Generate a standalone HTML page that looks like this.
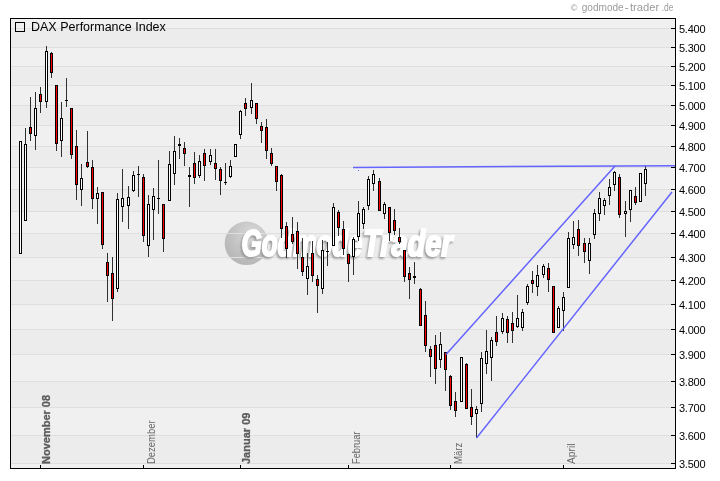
<!DOCTYPE html>
<html lang="de">
<head>
<meta charset="utf-8">
<title>DAX Performance Index</title>
<style>
html,body{margin:0;padding:0;background:#fff;}
body{width:720px;height:481px;overflow:hidden;}
svg{display:block;}
text{font-family:"Liberation Sans",Arial,Helvetica,sans-serif;}
svg{opacity:0.999;}
</style>
</head>
<body>
<svg width="720" height="481" viewBox="0 0 720 481">
<defs>
<radialGradient id="ball" cx="0.62" cy="0.3" r="0.8">
<stop offset="0" stop-color="#d9d9d9"/>
<stop offset="0.45" stop-color="#c7c7c7"/>
<stop offset="1" stop-color="#b2b2b2"/>
</radialGradient>
<filter id="blur" x="-10%" y="-30%" width="120%" height="160%"><feGaussianBlur stdDeviation="0.8"/></filter>
</defs>
<rect x="0" y="0" width="720" height="481" fill="#ffffff"/>
<g shape-rendering="crispEdges">
<rect x="10" y="18" width="666" height="451" fill="#eeeeee"/>
<rect x="11" y="19" width="664" height="9" fill="#f0f0f0"/>
<rect x="11" y="28" width="664" height="19" fill="#ececec"/>
<rect x="11" y="47" width="664" height="19" fill="#f0f0f0"/>
<rect x="11" y="66" width="664" height="19" fill="#ececec"/>
<rect x="11" y="85" width="664" height="20" fill="#f0f0f0"/>
<rect x="11" y="105" width="664" height="20" fill="#ececec"/>
<rect x="11" y="125" width="664" height="21" fill="#f0f0f0"/>
<rect x="11" y="146" width="664" height="21" fill="#ececec"/>
<rect x="11" y="167" width="664" height="22" fill="#f0f0f0"/>
<rect x="11" y="189" width="664" height="22" fill="#ececec"/>
<rect x="11" y="211" width="664" height="22" fill="#f0f0f0"/>
<rect x="11" y="233" width="664" height="24" fill="#ececec"/>
<rect x="11" y="257" width="664" height="23" fill="#f0f0f0"/>
<rect x="11" y="280" width="664" height="24" fill="#ececec"/>
<rect x="11" y="304" width="664" height="25" fill="#f0f0f0"/>
<rect x="11" y="329" width="664" height="25" fill="#ececec"/>
<rect x="11" y="354" width="664" height="27" fill="#f0f0f0"/>
<rect x="11" y="381" width="664" height="26" fill="#ececec"/>
<rect x="11" y="407" width="664" height="28" fill="#f0f0f0"/>
<rect x="11" y="435" width="664" height="28" fill="#ececec"/>
<rect x="11" y="463" width="664" height="5" fill="#f0f0f0"/>
<circle cx="246.5" cy="243.3" r="21.8" fill="url(#ball)" shape-rendering="auto"/>
<rect x="11" y="28" width="664" height="1" fill="#dfdfdf"/>
<rect x="11" y="47" width="664" height="1" fill="#dfdfdf"/>
<rect x="11" y="66" width="664" height="1" fill="#dfdfdf"/>
<rect x="11" y="85" width="664" height="1" fill="#dfdfdf"/>
<rect x="11" y="105" width="664" height="1" fill="#dfdfdf"/>
<rect x="11" y="125" width="664" height="1" fill="#dfdfdf"/>
<rect x="11" y="146" width="664" height="1" fill="#dfdfdf"/>
<rect x="11" y="167" width="664" height="1" fill="#dfdfdf"/>
<rect x="11" y="189" width="664" height="1" fill="#dfdfdf"/>
<rect x="11" y="211" width="664" height="1" fill="#dfdfdf"/>
<rect x="11" y="233" width="664" height="1" fill="#dfdfdf"/>
<rect x="11" y="257" width="664" height="1" fill="#dfdfdf"/>
<rect x="11" y="280" width="664" height="1" fill="#dfdfdf"/>
<rect x="11" y="304" width="664" height="1" fill="#dfdfdf"/>
<rect x="11" y="329" width="664" height="1" fill="#dfdfdf"/>
<rect x="11" y="354" width="664" height="1" fill="#dfdfdf"/>
<rect x="11" y="381" width="664" height="1" fill="#dfdfdf"/>
<rect x="11" y="407" width="664" height="1" fill="#dfdfdf"/>
<rect x="11" y="435" width="664" height="1" fill="#dfdfdf"/>
<rect x="11" y="463" width="664" height="1" fill="#dfdfdf"/>
</g>
<g>
<text y="258.2" font-size="36.8" font-weight="bold" font-style="italic" fill="#969696" stroke="#969696" stroke-width="1.6" filter="url(#blur)"><tspan x="240" textLength="121" lengthAdjust="spacingAndGlyphs">Godmode</tspan><tspan x="361.5" textLength="89.5" lengthAdjust="spacingAndGlyphs">Trader</tspan></text>
<text y="255.6" font-size="36.8" font-weight="bold" font-style="italic" fill="#ffffff" stroke="#ffffff" stroke-width="2.2" stroke-linejoin="miter"><tspan x="241.5" textLength="121" lengthAdjust="spacingAndGlyphs">Godmode</tspan><tspan x="363" textLength="89.5" lengthAdjust="spacingAndGlyphs">Trader</tspan></text>
</g>
<g shape-rendering="crispEdges">
<rect x="20" y="141" width="1" height="112" fill="#303030"/>
<rect x="19" y="141" width="3" height="113" fill="#000"/>
<rect x="20" y="142" width="1" height="111" fill="#ffffff"/>
<rect x="25" y="128" width="1" height="92" fill="#303030"/>
<rect x="24" y="144" width="3" height="77" fill="#000"/>
<rect x="25" y="145" width="1" height="75" fill="#ffffff"/>
<rect x="30" y="97" width="1" height="44" fill="#303030"/>
<rect x="29" y="127" width="3" height="7" fill="#000"/>
<rect x="30" y="128" width="1" height="5" fill="#ff0000"/>
<rect x="35" y="92" width="1" height="58" fill="#303030"/>
<rect x="34" y="108" width="3" height="28" fill="#000"/>
<rect x="35" y="109" width="1" height="26" fill="#ffffff"/>
<rect x="40" y="87" width="1" height="26" fill="#303030"/>
<rect x="39" y="94" width="3" height="8" fill="#000"/>
<rect x="40" y="95" width="1" height="6" fill="#ff0000"/>
<rect x="46" y="46" width="1" height="62" fill="#303030"/>
<rect x="45" y="51" width="3" height="51" fill="#000"/>
<rect x="46" y="52" width="1" height="49" fill="#ffffff"/>
<rect x="51" y="52" width="1" height="26" fill="#303030"/>
<rect x="50" y="53" width="3" height="20" fill="#000"/>
<rect x="51" y="54" width="1" height="18" fill="#ff0000"/>
<rect x="56" y="85" width="1" height="66" fill="#303030"/>
<rect x="55" y="85" width="3" height="59" fill="#000"/>
<rect x="56" y="86" width="1" height="57" fill="#ff0000"/>
<rect x="61" y="102" width="1" height="55" fill="#303030"/>
<rect x="60" y="118" width="3" height="23" fill="#000"/>
<rect x="61" y="119" width="1" height="21" fill="#ffffff"/>
<rect x="66" y="78" width="1" height="29" fill="#303030"/>
<rect x="65" y="100" width="3" height="1" fill="#000"/>
<rect x="71" y="108" width="1" height="51" fill="#303030"/>
<rect x="70" y="108" width="3" height="47" fill="#000"/>
<rect x="71" y="109" width="1" height="45" fill="#ff0000"/>
<rect x="76" y="130" width="1" height="70" fill="#303030"/>
<rect x="75" y="146" width="3" height="39" fill="#000"/>
<rect x="76" y="147" width="1" height="37" fill="#ff0000"/>
<rect x="81" y="164" width="1" height="42" fill="#303030"/>
<rect x="80" y="178" width="3" height="12" fill="#000"/>
<rect x="81" y="179" width="1" height="10" fill="#ffffff"/>
<rect x="87" y="131" width="1" height="37" fill="#303030"/>
<rect x="86" y="162" width="3" height="5" fill="#000"/>
<rect x="87" y="163" width="1" height="3" fill="#ff0000"/>
<rect x="92" y="160" width="1" height="49" fill="#303030"/>
<rect x="91" y="167" width="3" height="32" fill="#000"/>
<rect x="92" y="168" width="1" height="30" fill="#ff0000"/>
<rect x="97" y="187" width="1" height="37" fill="#303030"/>
<rect x="96" y="193" width="3" height="6" fill="#000"/>
<rect x="97" y="194" width="1" height="4" fill="#ffffff"/>
<rect x="102" y="192" width="1" height="57" fill="#303030"/>
<rect x="101" y="192" width="3" height="53" fill="#000"/>
<rect x="102" y="193" width="1" height="51" fill="#ff0000"/>
<rect x="107" y="253" width="1" height="49" fill="#303030"/>
<rect x="106" y="262" width="3" height="14" fill="#000"/>
<rect x="107" y="263" width="1" height="12" fill="#ff0000"/>
<rect x="112" y="257" width="1" height="64" fill="#303030"/>
<rect x="111" y="273" width="3" height="26" fill="#000"/>
<rect x="112" y="274" width="1" height="24" fill="#ff0000"/>
<rect x="117" y="193" width="1" height="99" fill="#303030"/>
<rect x="116" y="199" width="3" height="90" fill="#000"/>
<rect x="117" y="200" width="1" height="88" fill="#ffffff"/>
<rect x="122" y="169" width="1" height="53" fill="#303030"/>
<rect x="121" y="198" width="3" height="9" fill="#000"/>
<rect x="122" y="199" width="1" height="7" fill="#ffffff"/>
<rect x="128" y="186" width="1" height="43" fill="#303030"/>
<rect x="127" y="197" width="3" height="9" fill="#000"/>
<rect x="128" y="198" width="1" height="7" fill="#ffffff"/>
<rect x="133" y="171" width="1" height="21" fill="#303030"/>
<rect x="132" y="175" width="3" height="16" fill="#000"/>
<rect x="133" y="176" width="1" height="14" fill="#ffffff"/>
<rect x="138" y="166" width="1" height="31" fill="#303030"/>
<rect x="137" y="174" width="3" height="1" fill="#000"/>
<rect x="143" y="174" width="1" height="68" fill="#303030"/>
<rect x="142" y="177" width="3" height="59" fill="#000"/>
<rect x="143" y="178" width="1" height="57" fill="#ff0000"/>
<rect x="148" y="195" width="1" height="62" fill="#303030"/>
<rect x="147" y="204" width="3" height="42" fill="#000"/>
<rect x="148" y="205" width="1" height="40" fill="#ffffff"/>
<rect x="153" y="188" width="1" height="52" fill="#303030"/>
<rect x="152" y="196" width="3" height="14" fill="#000"/>
<rect x="153" y="197" width="1" height="12" fill="#ffffff"/>
<rect x="158" y="160" width="1" height="54" fill="#303030"/>
<rect x="157" y="198" width="3" height="1" fill="#000"/>
<rect x="163" y="204" width="1" height="48" fill="#303030"/>
<rect x="162" y="204" width="3" height="35" fill="#000"/>
<rect x="163" y="205" width="1" height="33" fill="#ff0000"/>
<rect x="169" y="151" width="1" height="49" fill="#303030"/>
<rect x="168" y="164" width="3" height="37" fill="#000"/>
<rect x="169" y="165" width="1" height="35" fill="#ffffff"/>
<rect x="174" y="136" width="1" height="49" fill="#303030"/>
<rect x="173" y="151" width="3" height="23" fill="#000"/>
<rect x="174" y="152" width="1" height="21" fill="#ffffff"/>
<rect x="179" y="138" width="1" height="21" fill="#303030"/>
<rect x="178" y="144" width="3" height="2" fill="#000"/>
<rect x="184" y="142" width="1" height="24" fill="#303030"/>
<rect x="183" y="148" width="3" height="6" fill="#000"/>
<rect x="184" y="149" width="1" height="4" fill="#ff0000"/>
<rect x="189" y="167" width="1" height="40" fill="#303030"/>
<rect x="188" y="175" width="3" height="2" fill="#000"/>
<rect x="194" y="152" width="1" height="32" fill="#303030"/>
<rect x="193" y="163" width="3" height="15" fill="#000"/>
<rect x="194" y="164" width="1" height="13" fill="#ff0000"/>
<rect x="199" y="155" width="1" height="23" fill="#303030"/>
<rect x="198" y="161" width="3" height="15" fill="#000"/>
<rect x="199" y="162" width="1" height="13" fill="#ffffff"/>
<rect x="204" y="149" width="1" height="32" fill="#303030"/>
<rect x="203" y="153" width="3" height="13" fill="#000"/>
<rect x="204" y="154" width="1" height="11" fill="#ff0000"/>
<rect x="210" y="149" width="1" height="16" fill="#303030"/>
<rect x="209" y="155" width="3" height="7" fill="#000"/>
<rect x="210" y="156" width="1" height="5" fill="#ffffff"/>
<rect x="215" y="149" width="1" height="31" fill="#303030"/>
<rect x="214" y="163" width="3" height="6" fill="#000"/>
<rect x="215" y="164" width="1" height="4" fill="#ff0000"/>
<rect x="220" y="167" width="1" height="28" fill="#303030"/>
<rect x="219" y="169" width="3" height="12" fill="#000"/>
<rect x="220" y="170" width="1" height="10" fill="#ff0000"/>
<rect x="225" y="163" width="1" height="22" fill="#303030"/>
<rect x="224" y="182" width="3" height="1" fill="#000"/>
<rect x="230" y="160" width="1" height="18" fill="#303030"/>
<rect x="229" y="166" width="3" height="11" fill="#000"/>
<rect x="230" y="167" width="1" height="9" fill="#ffffff"/>
<rect x="235" y="144" width="1" height="12" fill="#303030"/>
<rect x="234" y="144" width="3" height="13" fill="#000"/>
<rect x="235" y="145" width="1" height="11" fill="#ffffff"/>
<rect x="240" y="110" width="1" height="29" fill="#303030"/>
<rect x="239" y="111" width="3" height="24" fill="#000"/>
<rect x="240" y="112" width="1" height="22" fill="#ffffff"/>
<rect x="245" y="98" width="1" height="18" fill="#303030"/>
<rect x="244" y="103" width="3" height="6" fill="#000"/>
<rect x="245" y="104" width="1" height="4" fill="#ff0000"/>
<rect x="251" y="83" width="1" height="31" fill="#303030"/>
<rect x="250" y="100" width="3" height="8" fill="#000"/>
<rect x="251" y="101" width="1" height="6" fill="#ffffff"/>
<rect x="256" y="103" width="1" height="21" fill="#303030"/>
<rect x="255" y="103" width="3" height="16" fill="#000"/>
<rect x="256" y="104" width="1" height="14" fill="#ff0000"/>
<rect x="261" y="122" width="1" height="21" fill="#303030"/>
<rect x="260" y="126" width="3" height="5" fill="#000"/>
<rect x="261" y="127" width="1" height="3" fill="#ff0000"/>
<rect x="266" y="119" width="1" height="40" fill="#303030"/>
<rect x="265" y="127" width="3" height="24" fill="#000"/>
<rect x="266" y="128" width="1" height="22" fill="#ff0000"/>
<rect x="271" y="148" width="1" height="18" fill="#303030"/>
<rect x="270" y="153" width="3" height="11" fill="#000"/>
<rect x="271" y="154" width="1" height="9" fill="#ff0000"/>
<rect x="276" y="166" width="1" height="25" fill="#303030"/>
<rect x="275" y="166" width="3" height="16" fill="#000"/>
<rect x="276" y="167" width="1" height="14" fill="#ff0000"/>
<rect x="281" y="174" width="1" height="64" fill="#303030"/>
<rect x="280" y="175" width="3" height="54" fill="#000"/>
<rect x="281" y="176" width="1" height="52" fill="#ff0000"/>
<rect x="286" y="222" width="1" height="36" fill="#303030"/>
<rect x="285" y="226" width="3" height="23" fill="#000"/>
<rect x="286" y="227" width="1" height="21" fill="#ff0000"/>
<rect x="292" y="217" width="1" height="27" fill="#303030"/>
<rect x="291" y="234" width="3" height="8" fill="#000"/>
<rect x="292" y="235" width="1" height="6" fill="#ff0000"/>
<rect x="297" y="222" width="1" height="47" fill="#303030"/>
<rect x="296" y="231" width="3" height="23" fill="#000"/>
<rect x="297" y="232" width="1" height="21" fill="#ff0000"/>
<rect x="302" y="238" width="1" height="38" fill="#303030"/>
<rect x="301" y="257" width="3" height="15" fill="#000"/>
<rect x="302" y="258" width="1" height="13" fill="#ff0000"/>
<rect x="307" y="253" width="1" height="42" fill="#303030"/>
<rect x="306" y="266" width="3" height="13" fill="#000"/>
<rect x="307" y="267" width="1" height="11" fill="#ffffff"/>
<rect x="312" y="241" width="1" height="41" fill="#303030"/>
<rect x="311" y="253" width="3" height="23" fill="#000"/>
<rect x="312" y="254" width="1" height="21" fill="#ff0000"/>
<rect x="317" y="275" width="1" height="38" fill="#303030"/>
<rect x="316" y="279" width="3" height="7" fill="#000"/>
<rect x="317" y="280" width="1" height="5" fill="#ff0000"/>
<rect x="322" y="240" width="1" height="54" fill="#303030"/>
<rect x="321" y="250" width="3" height="39" fill="#000"/>
<rect x="322" y="251" width="1" height="37" fill="#ffffff"/>
<rect x="327" y="242" width="1" height="24" fill="#303030"/>
<rect x="326" y="251" width="3" height="1" fill="#000"/>
<rect x="333" y="203" width="1" height="42" fill="#303030"/>
<rect x="332" y="207" width="3" height="39" fill="#000"/>
<rect x="333" y="208" width="1" height="37" fill="#ffffff"/>
<rect x="338" y="210" width="1" height="26" fill="#303030"/>
<rect x="337" y="212" width="3" height="16" fill="#000"/>
<rect x="338" y="213" width="1" height="14" fill="#ff0000"/>
<rect x="343" y="221" width="1" height="34" fill="#303030"/>
<rect x="342" y="229" width="3" height="20" fill="#000"/>
<rect x="343" y="230" width="1" height="18" fill="#ff0000"/>
<rect x="348" y="254" width="1" height="28" fill="#303030"/>
<rect x="347" y="254" width="3" height="10" fill="#000"/>
<rect x="348" y="255" width="1" height="8" fill="#ff0000"/>
<rect x="353" y="237" width="1" height="38" fill="#303030"/>
<rect x="352" y="239" width="3" height="18" fill="#000"/>
<rect x="353" y="240" width="1" height="16" fill="#ffffff"/>
<rect x="358" y="201" width="1" height="40" fill="#303030"/>
<rect x="357" y="213" width="3" height="24" fill="#000"/>
<rect x="358" y="214" width="1" height="22" fill="#ffffff"/>
<rect x="363" y="207" width="1" height="22" fill="#303030"/>
<rect x="362" y="209" width="3" height="15" fill="#000"/>
<rect x="363" y="210" width="1" height="13" fill="#ffffff"/>
<rect x="368" y="176" width="1" height="34" fill="#303030"/>
<rect x="367" y="179" width="3" height="27" fill="#000"/>
<rect x="368" y="180" width="1" height="25" fill="#ffffff"/>
<rect x="373" y="170" width="1" height="21" fill="#303030"/>
<rect x="372" y="174" width="3" height="10" fill="#000"/>
<rect x="373" y="175" width="1" height="8" fill="#ffffff"/>
<rect x="379" y="178" width="1" height="32" fill="#303030"/>
<rect x="378" y="181" width="3" height="30" fill="#000"/>
<rect x="379" y="182" width="1" height="28" fill="#ff0000"/>
<rect x="384" y="202" width="1" height="17" fill="#303030"/>
<rect x="383" y="204" width="3" height="10" fill="#000"/>
<rect x="384" y="205" width="1" height="8" fill="#ffffff"/>
<rect x="389" y="207" width="1" height="34" fill="#303030"/>
<rect x="388" y="207" width="3" height="26" fill="#000"/>
<rect x="389" y="208" width="1" height="24" fill="#ff0000"/>
<rect x="394" y="209" width="1" height="26" fill="#303030"/>
<rect x="393" y="220" width="3" height="11" fill="#000"/>
<rect x="394" y="221" width="1" height="9" fill="#ff0000"/>
<rect x="399" y="228" width="1" height="16" fill="#303030"/>
<rect x="398" y="237" width="3" height="5" fill="#000"/>
<rect x="399" y="238" width="1" height="3" fill="#ff0000"/>
<rect x="404" y="250" width="1" height="32" fill="#303030"/>
<rect x="403" y="250" width="3" height="27" fill="#000"/>
<rect x="404" y="251" width="1" height="25" fill="#ff0000"/>
<rect x="409" y="267" width="1" height="32" fill="#303030"/>
<rect x="408" y="273" width="3" height="7" fill="#000"/>
<rect x="409" y="274" width="1" height="5" fill="#ff0000"/>
<rect x="414" y="262" width="1" height="22" fill="#303030"/>
<rect x="413" y="276" width="3" height="2" fill="#000"/>
<rect x="420" y="288" width="1" height="37" fill="#303030"/>
<rect x="419" y="289" width="3" height="37" fill="#000"/>
<rect x="420" y="290" width="1" height="35" fill="#ff0000"/>
<rect x="425" y="301" width="1" height="51" fill="#303030"/>
<rect x="424" y="315" width="3" height="31" fill="#000"/>
<rect x="425" y="316" width="1" height="29" fill="#ff0000"/>
<rect x="430" y="346" width="1" height="31" fill="#303030"/>
<rect x="429" y="349" width="3" height="8" fill="#000"/>
<rect x="430" y="350" width="1" height="6" fill="#ff0000"/>
<rect x="435" y="335" width="1" height="49" fill="#303030"/>
<rect x="434" y="345" width="3" height="24" fill="#000"/>
<rect x="435" y="346" width="1" height="22" fill="#ff0000"/>
<rect x="440" y="332" width="1" height="36" fill="#303030"/>
<rect x="439" y="344" width="3" height="16" fill="#000"/>
<rect x="440" y="345" width="1" height="14" fill="#ffffff"/>
<rect x="445" y="352" width="1" height="39" fill="#303030"/>
<rect x="444" y="352" width="3" height="18" fill="#000"/>
<rect x="445" y="353" width="1" height="16" fill="#ff0000"/>
<rect x="450" y="375" width="1" height="35" fill="#303030"/>
<rect x="449" y="376" width="3" height="30" fill="#000"/>
<rect x="450" y="377" width="1" height="28" fill="#ff0000"/>
<rect x="455" y="392" width="1" height="25" fill="#303030"/>
<rect x="454" y="401" width="3" height="10" fill="#000"/>
<rect x="455" y="402" width="1" height="8" fill="#ff0000"/>
<rect x="461" y="357" width="1" height="44" fill="#303030"/>
<rect x="460" y="357" width="3" height="45" fill="#000"/>
<rect x="461" y="358" width="1" height="43" fill="#ffffff"/>
<rect x="466" y="363" width="1" height="45" fill="#303030"/>
<rect x="465" y="364" width="3" height="45" fill="#000"/>
<rect x="466" y="365" width="1" height="43" fill="#ff0000"/>
<rect x="471" y="389" width="1" height="36" fill="#303030"/>
<rect x="470" y="407" width="3" height="10" fill="#000"/>
<rect x="471" y="408" width="1" height="8" fill="#ff0000"/>
<rect x="476" y="406" width="1" height="32" fill="#303030"/>
<rect x="475" y="409" width="3" height="5" fill="#000"/>
<rect x="476" y="410" width="1" height="3" fill="#ffffff"/>
<rect x="481" y="352" width="1" height="60" fill="#303030"/>
<rect x="480" y="358" width="3" height="46" fill="#000"/>
<rect x="481" y="359" width="1" height="44" fill="#ffffff"/>
<rect x="486" y="330" width="1" height="44" fill="#303030"/>
<rect x="485" y="351" width="3" height="13" fill="#000"/>
<rect x="486" y="352" width="1" height="11" fill="#ffffff"/>
<rect x="491" y="337" width="1" height="44" fill="#303030"/>
<rect x="490" y="340" width="3" height="18" fill="#000"/>
<rect x="491" y="341" width="1" height="16" fill="#ffffff"/>
<rect x="496" y="316" width="1" height="30" fill="#303030"/>
<rect x="495" y="332" width="3" height="10" fill="#000"/>
<rect x="496" y="333" width="1" height="8" fill="#ff0000"/>
<rect x="502" y="313" width="1" height="21" fill="#303030"/>
<rect x="501" y="318" width="3" height="14" fill="#000"/>
<rect x="502" y="319" width="1" height="12" fill="#ffffff"/>
<rect x="507" y="316" width="1" height="27" fill="#303030"/>
<rect x="506" y="319" width="3" height="14" fill="#000"/>
<rect x="507" y="320" width="1" height="12" fill="#ff0000"/>
<rect x="512" y="312" width="1" height="31" fill="#303030"/>
<rect x="511" y="323" width="3" height="8" fill="#000"/>
<rect x="512" y="324" width="1" height="6" fill="#ff0000"/>
<rect x="517" y="295" width="1" height="33" fill="#303030"/>
<rect x="516" y="318" width="3" height="9" fill="#000"/>
<rect x="517" y="319" width="1" height="7" fill="#ffffff"/>
<rect x="522" y="309" width="1" height="22" fill="#303030"/>
<rect x="521" y="312" width="3" height="16" fill="#000"/>
<rect x="522" y="313" width="1" height="14" fill="#ffffff"/>
<rect x="527" y="284" width="1" height="21" fill="#303030"/>
<rect x="526" y="286" width="3" height="17" fill="#000"/>
<rect x="527" y="287" width="1" height="15" fill="#ffffff"/>
<rect x="532" y="271" width="1" height="22" fill="#303030"/>
<rect x="531" y="280" width="3" height="4" fill="#000"/>
<rect x="532" y="281" width="1" height="2" fill="#ff0000"/>
<rect x="537" y="265" width="1" height="31" fill="#303030"/>
<rect x="536" y="275" width="3" height="12" fill="#000"/>
<rect x="537" y="276" width="1" height="10" fill="#ffffff"/>
<rect x="543" y="264" width="1" height="14" fill="#303030"/>
<rect x="542" y="266" width="3" height="9" fill="#000"/>
<rect x="543" y="267" width="1" height="7" fill="#ffffff"/>
<rect x="548" y="263" width="1" height="29" fill="#303030"/>
<rect x="547" y="268" width="3" height="12" fill="#000"/>
<rect x="548" y="269" width="1" height="10" fill="#ff0000"/>
<rect x="553" y="286" width="1" height="46" fill="#303030"/>
<rect x="552" y="286" width="3" height="47" fill="#000"/>
<rect x="553" y="287" width="1" height="45" fill="#ff0000"/>
<rect x="558" y="306" width="1" height="21" fill="#303030"/>
<rect x="557" y="308" width="3" height="20" fill="#000"/>
<rect x="558" y="309" width="1" height="18" fill="#ffffff"/>
<rect x="563" y="292" width="1" height="39" fill="#303030"/>
<rect x="562" y="297" width="3" height="14" fill="#000"/>
<rect x="563" y="298" width="1" height="12" fill="#ffffff"/>
<rect x="568" y="232" width="1" height="55" fill="#303030"/>
<rect x="567" y="238" width="3" height="50" fill="#000"/>
<rect x="568" y="239" width="1" height="48" fill="#ffffff"/>
<rect x="573" y="221" width="1" height="28" fill="#303030"/>
<rect x="572" y="237" width="3" height="8" fill="#000"/>
<rect x="573" y="238" width="1" height="6" fill="#ffffff"/>
<rect x="578" y="220" width="1" height="36" fill="#303030"/>
<rect x="577" y="229" width="3" height="17" fill="#000"/>
<rect x="578" y="230" width="1" height="15" fill="#ff0000"/>
<rect x="584" y="238" width="1" height="25" fill="#303030"/>
<rect x="583" y="243" width="3" height="9" fill="#000"/>
<rect x="584" y="244" width="1" height="7" fill="#ff0000"/>
<rect x="589" y="238" width="1" height="36" fill="#303030"/>
<rect x="588" y="243" width="3" height="18" fill="#000"/>
<rect x="589" y="244" width="1" height="16" fill="#ffffff"/>
<rect x="594" y="209" width="1" height="30" fill="#303030"/>
<rect x="593" y="213" width="3" height="22" fill="#000"/>
<rect x="594" y="214" width="1" height="20" fill="#ffffff"/>
<rect x="599" y="192" width="1" height="29" fill="#303030"/>
<rect x="598" y="198" width="3" height="16" fill="#000"/>
<rect x="599" y="199" width="1" height="14" fill="#ffffff"/>
<rect x="604" y="198" width="1" height="17" fill="#303030"/>
<rect x="603" y="200" width="3" height="6" fill="#000"/>
<rect x="604" y="201" width="1" height="4" fill="#ffffff"/>
<rect x="609" y="179" width="1" height="26" fill="#303030"/>
<rect x="608" y="187" width="3" height="9" fill="#000"/>
<rect x="609" y="188" width="1" height="7" fill="#ffffff"/>
<rect x="614" y="171" width="1" height="20" fill="#303030"/>
<rect x="613" y="172" width="3" height="13" fill="#000"/>
<rect x="614" y="173" width="1" height="11" fill="#ffffff"/>
<rect x="619" y="174" width="1" height="44" fill="#303030"/>
<rect x="618" y="177" width="3" height="38" fill="#000"/>
<rect x="619" y="178" width="1" height="36" fill="#ff0000"/>
<rect x="625" y="201" width="1" height="36" fill="#303030"/>
<rect x="624" y="211" width="3" height="3" fill="#000"/>
<rect x="625" y="212" width="1" height="1" fill="#ffffff"/>
<rect x="630" y="190" width="1" height="32" fill="#303030"/>
<rect x="629" y="190" width="3" height="20" fill="#000"/>
<rect x="630" y="191" width="1" height="18" fill="#ffffff"/>
<rect x="635" y="187" width="1" height="18" fill="#303030"/>
<rect x="634" y="196" width="3" height="7" fill="#000"/>
<rect x="635" y="197" width="1" height="5" fill="#ff0000"/>
<rect x="640" y="173" width="1" height="28" fill="#303030"/>
<rect x="639" y="173" width="3" height="29" fill="#000"/>
<rect x="640" y="174" width="1" height="27" fill="#ffffff"/>
<rect x="645" y="165" width="1" height="31" fill="#303030"/>
<rect x="644" y="169" width="3" height="15" fill="#000"/>
<rect x="645" y="170" width="1" height="13" fill="#ffffff"/>
</g>
<g stroke="#6464ff" stroke-width="1.5" stroke-linecap="butt" fill="none">
<line x1="353" y1="167.4" x2="675" y2="165.7"/>
<line x1="446" y1="354.5" x2="615" y2="166"/>
<line x1="476.5" y1="438" x2="672" y2="192"/>
</g>
<rect x="358" y="170" width="1" height="1" fill="#6464ff"/>
<g shape-rendering="crispEdges" fill="#000">
<rect x="10" y="18" width="666" height="1"/>
<rect x="10" y="468" width="666" height="1"/>
<rect x="10" y="18" width="1" height="451"/>
<rect x="675" y="18" width="1" height="451"/>
<rect x="671" y="28" width="4" height="1"/>
<rect x="671" y="47" width="4" height="1"/>
<rect x="671" y="66" width="4" height="1"/>
<rect x="671" y="85" width="4" height="1"/>
<rect x="671" y="105" width="4" height="1"/>
<rect x="671" y="125" width="4" height="1"/>
<rect x="671" y="146" width="4" height="1"/>
<rect x="671" y="167" width="4" height="1"/>
<rect x="671" y="189" width="4" height="1"/>
<rect x="671" y="211" width="4" height="1"/>
<rect x="671" y="233" width="4" height="1"/>
<rect x="671" y="257" width="4" height="1"/>
<rect x="671" y="280" width="4" height="1"/>
<rect x="671" y="304" width="4" height="1"/>
<rect x="671" y="329" width="4" height="1"/>
<rect x="671" y="354" width="4" height="1"/>
<rect x="671" y="381" width="4" height="1"/>
<rect x="671" y="407" width="4" height="1"/>
<rect x="671" y="435" width="4" height="1"/>
<rect x="671" y="463" width="4" height="1"/>
<rect x="40" y="465" width="1" height="3"/>
<rect x="143" y="465" width="1" height="3"/>
<rect x="240" y="465" width="1" height="3"/>
<rect x="348" y="465" width="1" height="3"/>
<rect x="450" y="465" width="1" height="3"/>
<rect x="563" y="465" width="1" height="3"/>
<rect x="15" y="22" width="10" height="1"/><rect x="15" y="31" width="10" height="1"/><rect x="15" y="22" width="1" height="10"/><rect x="24" y="22" width="1" height="10"/>
</g>
<text x="31" y="31" font-size="12.5" fill="#000">DAX Performance Index</text>
<text y="10.8" font-size="10" fill="#9c9c9c"><tspan x="570.8" font-size="9">©</tspan> <tspan x="581.7" textLength="42" lengthAdjust="spacingAndGlyphs">godmode</tspan><tspan x="624.7" textLength="4" lengthAdjust="spacingAndGlyphs">-</tspan><tspan x="630" textLength="29.3" lengthAdjust="spacingAndGlyphs">trader</tspan><tspan x="661.7" textLength="11.7" lengthAdjust="spacingAndGlyphs">.de</tspan></text>
<text x="679" y="33" font-size="11" fill="#000" textLength="26.5" lengthAdjust="spacing">5.400</text>
<text x="679" y="52" font-size="11" fill="#000" textLength="26.5" lengthAdjust="spacing">5.300</text>
<text x="679" y="71" font-size="11" fill="#000" textLength="26.5" lengthAdjust="spacing">5.200</text>
<text x="679" y="90" font-size="11" fill="#000" textLength="26.5" lengthAdjust="spacing">5.100</text>
<text x="679" y="110" font-size="11" fill="#000" textLength="26.5" lengthAdjust="spacing">5.000</text>
<text x="679" y="130" font-size="11" fill="#000" textLength="26.5" lengthAdjust="spacing">4.900</text>
<text x="679" y="151" font-size="11" fill="#000" textLength="26.5" lengthAdjust="spacing">4.800</text>
<text x="679" y="172" font-size="11" fill="#000" textLength="26.5" lengthAdjust="spacing">4.700</text>
<text x="679" y="194" font-size="11" fill="#000" textLength="26.5" lengthAdjust="spacing">4.600</text>
<text x="679" y="216" font-size="11" fill="#000" textLength="26.5" lengthAdjust="spacing">4.500</text>
<text x="679" y="238" font-size="11" fill="#000" textLength="26.5" lengthAdjust="spacing">4.400</text>
<text x="679" y="262" font-size="11" fill="#000" textLength="26.5" lengthAdjust="spacing">4.300</text>
<text x="679" y="285" font-size="11" fill="#000" textLength="26.5" lengthAdjust="spacing">4.200</text>
<text x="679" y="309" font-size="11" fill="#000" textLength="26.5" lengthAdjust="spacing">4.100</text>
<text x="679" y="334" font-size="11" fill="#000" textLength="26.5" lengthAdjust="spacing">4.000</text>
<text x="679" y="359" font-size="11" fill="#000" textLength="26.5" lengthAdjust="spacing">3.900</text>
<text x="679" y="386" font-size="11" fill="#000" textLength="26.5" lengthAdjust="spacing">3.800</text>
<text x="679" y="412" font-size="11" fill="#000" textLength="26.5" lengthAdjust="spacing">3.700</text>
<text x="679" y="440" font-size="11" fill="#000" textLength="26.5" lengthAdjust="spacing">3.600</text>
<text x="679" y="468" font-size="11" fill="#000" textLength="26.5" lengthAdjust="spacing">3.500</text>
<text transform="translate(50.2,464) rotate(-90)" font-size="11" font-weight="bold" fill="#5c5c5c" stroke="#5c5c5c" stroke-width="0.3">November 08</text>
<text transform="translate(154.5,464) rotate(-90)" font-size="11" fill="#666666" textLength="43.7" lengthAdjust="spacingAndGlyphs">Dezember</text>
<text transform="translate(250.2,464) rotate(-90)" font-size="11" font-weight="bold" fill="#5c5c5c" stroke="#5c5c5c" stroke-width="0.3">Januar 09</text>
<text transform="translate(359.5,464) rotate(-90)" font-size="11" fill="#666666" textLength="32.4" lengthAdjust="spacingAndGlyphs">Februar</text>
<text transform="translate(461.5,464) rotate(-90)" font-size="11" fill="#666666" textLength="21.4" lengthAdjust="spacingAndGlyphs">März</text>
<text transform="translate(574.5,464) rotate(-90)" font-size="11" fill="#666666" textLength="20.5" lengthAdjust="spacingAndGlyphs">April</text>
</svg>
</body>
</html>
